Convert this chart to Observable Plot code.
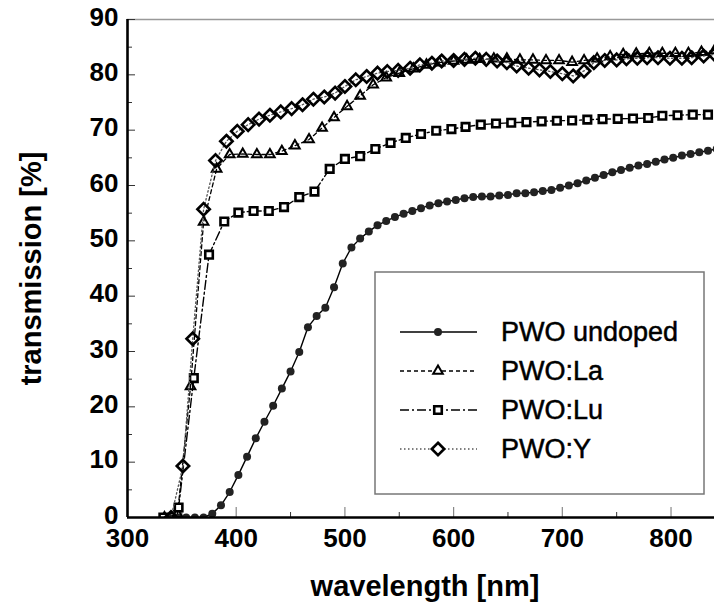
<!DOCTYPE html>
<html>
<head>
<meta charset="utf-8">
<script src="https://cdn.jsdelivr.net/npm/d3@7"></script>
<script src="https://cdn.jsdelivr.net/npm/@observablehq/plot@0.6"></script>
<style>
  body { margin: 0; background: #fff; }
  #chart { width: 714px; height: 612px; }
</style>
</head>
<body>
<div id="chart"></div>
<script>
// Optical transmission spectra of PbWO4 crystals, undoped and doped.

// PWO undoped
const undopedNm = [
  338, 346, 354, 362, 370, 378, 386, 394, 402, 410,
  418, 426, 434, 442, 450, 458, 466, 474, 482, 490,
  498, 506, 514, 522, 530, 538, 546, 554, 562, 570,
  578, 586, 594, 602, 610, 618, 626, 634, 642, 650,
  658, 666, 674, 682, 690, 698, 706, 714, 722, 730,
  738, 746, 754, 762, 770, 778, 786, 794, 802, 810,
  818, 826, 834, 842
];
const undopedT = [
  0, 0, 0, 0, 0, 0.7, 2.2, 4.6, 7.7, 11.0,
  14.3, 17.3, 20.2, 23.3, 26.4, 29.9, 34.4, 36.4, 37.9, 41.6,
  45.9, 48.8, 50.4, 51.7, 52.8, 53.6, 54.3, 54.9, 55.4, 55.9,
  56.4, 56.8, 57.1, 57.4, 57.7, 57.9, 58.0, 58.0, 58.2, 58.3,
  58.6, 58.6, 58.8, 59.0, 59.2, 59.6, 60.0, 60.4, 60.9, 61.4,
  61.9, 62.4, 62.8, 63.2, 63.6, 63.9, 64.3, 64.7, 65.0, 65.4,
  65.7, 66.0, 66.3, 66.6
];

// PWO:La
const laNm = [
  334, 346, 358, 370, 382, 394, 406, 419, 431, 442,
  454, 467, 479, 490, 502, 514, 526, 538, 550, 563,
  575, 587, 600, 612, 624, 637, 649, 661, 673, 685,
  697, 709, 720, 732, 744, 756, 768, 780, 792, 804,
  816, 828, 840
];
const laT = [
  0, 0.6, 23.7, 53.4, 63.0, 65.6, 65.7, 65.6, 65.6, 66.2,
  67.2, 68.3, 70.4, 72.3, 74.3, 76.2, 78.2, 79.5, 80.3, 81.1,
  81.8, 82.2, 82.5, 82.7, 82.8, 82.9, 82.9, 82.7, 82.7, 82.6,
  82.6, 82.3, 82.6, 82.9, 83.3, 83.7, 83.8, 83.9, 83.9, 83.9,
  83.9, 84.1, 84.4
];

// PWO:Lu
const luNm = [
  333, 347, 361, 375, 389, 402, 416, 430, 444, 458,
  472, 486, 500, 514, 528, 542, 556, 570, 584, 598,
  611, 625, 639, 653, 667, 681, 695, 709, 723, 737,
  751, 765, 779, 792, 806, 820, 834
];
const luT = [
  0, 1.8, 25.2, 47.5, 53.5, 55.1, 55.4, 55.4, 56.1, 57.9,
  58.9, 63.0, 64.8, 65.3, 66.6, 67.7, 68.6, 69.3, 69.9, 70.2,
  70.6, 71.0, 71.2, 71.35, 71.45, 71.6, 71.7, 71.75, 71.9, 72.0,
  72.05, 72.1, 72.2, 72.6, 72.7, 72.8, 72.8
];

// PWO:Y
const yNm = [
  340, 351, 360, 370, 381, 391, 401, 411, 421, 431,
  441, 451, 461, 471, 481, 491, 500, 510, 520, 530,
  539, 549, 560, 569, 580, 589, 600, 610, 620, 630,
  640, 649, 658, 669, 679, 689, 700, 710, 720, 729,
  739, 750, 759, 769, 778, 788, 799, 810, 819, 830,
  840
];
const yT = [
  0, 9.3, 32.3, 55.7, 64.5, 68.0, 69.8, 71.0, 72.0, 72.7,
  73.3, 73.9, 74.6, 75.6, 76.0, 76.7, 77.9, 79.1, 79.7, 80.3,
  80.6, 80.8, 81.2, 81.8, 82.1, 82.5, 82.6, 82.8, 83.0, 82.8,
  82.5, 82.2, 81.6, 81.2, 80.9, 80.6, 80.2, 79.8, 80.7, 82.2,
  82.6, 82.7, 82.9, 83.0, 83.1, 83.1, 83.0, 83.0, 83.1, 83.4,
  83.7
];

const seriesNames = ["PWO undoped", "PWO:La", "PWO:Lu", "PWO:Y"];

// Axis ticks
const xTicks = [300, 400, 500, 600, 700, 800];
const xMinor = [350, 450, 550, 650, 750];
const yTicks = [0, 10, 20, 30, 40, 50, 60, 70, 80, 90];
const yMinor = [5, 15, 25, 35, 45, 55, 65, 75, 85];

const zip = (nm, t) => nm.map((w, i) => ({nm: w, t: t[i]}));
const undoped = zip(undopedNm, undopedT);
const la = zip(laNm, laT);
const lu = zip(luNm, luT);
const yd = zip(yNm, yT);

const styles = [
  {data: undoped, stroke: "#000", dash: null, width: 1.4, symbol: "circle", fill: "#222", r: 4, sw: 0},
  {data: la, stroke: "#000", dash: "4,3", width: 1.3, symbol: "triangle2", fill: "none", r: 4.6, sw: 2},
  {data: lu, stroke: "#000", dash: "9,3,2,3", width: 1.4, symbol: "square2", fill: "#fff", r: 4.8, sw: 2.6},
  {data: yd, stroke: "#555", dash: "1.5,2.5", width: 1.3, symbol: "diamond2", fill: "none", r: 5.6, sw: 2.6}
];

const fontFamily = "'Liberation Sans', Arial, Helvetica, sans-serif";

const seriesMarks = styles.flatMap(s => [
  Plot.line(s.data, {x: "nm", y: "t", stroke: s.stroke, strokeWidth: s.width,
    strokeDasharray: s.dash, clip: true}),
  Plot.dot(s.data, {x: "nm", y: "t", symbol: s.symbol, r: s.r,
    fill: s.fill, stroke: s.sw ? "#000" : "none", strokeWidth: s.sw, clip: true})
]);

const chart = Plot.plot({
  width: 714,
  height: 612,
  marginLeft: 127,
  marginRight: 0,
  marginTop: 19,
  marginBottom: 95,
  x: {domain: [300, 840], label: null},
  y: {domain: [0, 90], label: null},
  style: {fontFamily, background: "#fff", color: "#000", overflow: "visible"},
  marks: [
    Plot.frame({anchor: "top", stroke: "#999", strokeWidth: 1.5}),
    // inward tick marks
    Plot.ruleX(xMinor, {y1: 0, y2: 0, insetTop: -5, stroke: "#333", strokeWidth: 1}),
    Plot.ruleX(xTicks.slice(1), {y1: 0, y2: 0, insetTop: -10, stroke: "#888", strokeWidth: 1.2}),
    Plot.ruleY(yMinor, {x1: 300, x2: 300, insetRight: -5, stroke: "#333", strokeWidth: 1}),
    Plot.ruleY(yTicks, {x1: 300, x2: 300, insetRight: -8, stroke: "#333", strokeWidth: 1}),
    ...seriesMarks,
    Plot.ruleX([300], {stroke: "#000", strokeWidth: 2.6}),
    Plot.ruleY([0], {stroke: "#000", strokeWidth: 2.6}),
    Plot.axisX(xTicks, {tickSize: 0, tickPadding: 11, fontSize: 26, fontWeight: "bold", label: null}),
    Plot.axisY(yTicks, {tickSize: 0, tickPadding: 9, fontSize: 26, fontWeight: "bold", label: null, dy: -2}),
    Plot.text(["wavelength [nm]"], {text: d => d, frameAnchor: "bottom", dx: 4, dy: 78,
      fontSize: 29, fontWeight: "bold"}),
    Plot.text(["transmission [%]"], {text: d => d, frameAnchor: "left", textAnchor: "middle",
      rotate: -90, dx: -96, fontSize: 29, fontWeight: "bold"})
  ]
});

document.getElementById("chart").append(chart);

// Legend box inside the plotting area
const svg = d3.select(chart);
const legend = svg.append("g").attr("class", "legend");
legend.append("rect")
  .attr("x", 375).attr("y", 272).attr("width", 329).attr("height", 222)
  .attr("fill", "#fff").attr("stroke", "#777").attr("stroke-width", 1.5);

const symbolTypes = {
  circle: d3.symbolCircle, triangle2: d3.symbolTriangle2,
  square2: d3.symbolSquare2, diamond2: d3.symbolDiamond2
};

styles.forEach((s, i) => {
  const y = 332 + i * 39;
  legend.append("line")
    .attr("x1", 400).attr("x2", 477).attr("y1", y).attr("y2", y)
    .attr("stroke", s.stroke).attr("stroke-width", s.width)
    .attr("stroke-dasharray", s.dash);
  legend.append("path")
    .attr("transform", `translate(438,${y})`)
    .attr("d", d3.symbol(symbolTypes[s.symbol], Math.PI * s.r * s.r)())
    .attr("fill", s.fill === "none" ? "#fff" : s.fill)
    .attr("stroke", s.sw ? "#000" : "none").attr("stroke-width", s.sw);
  legend.append("text")
    .attr("x", 501).attr("y", y).attr("dy", "0.35em")
    .attr("text-anchor", "start")
    .attr("font-size", 27).attr("font-family", fontFamily)
    .attr("stroke", "#000").attr("stroke-width", 0.5)
    .text(seriesNames[i]);
});
</script>
</body>
</html>
